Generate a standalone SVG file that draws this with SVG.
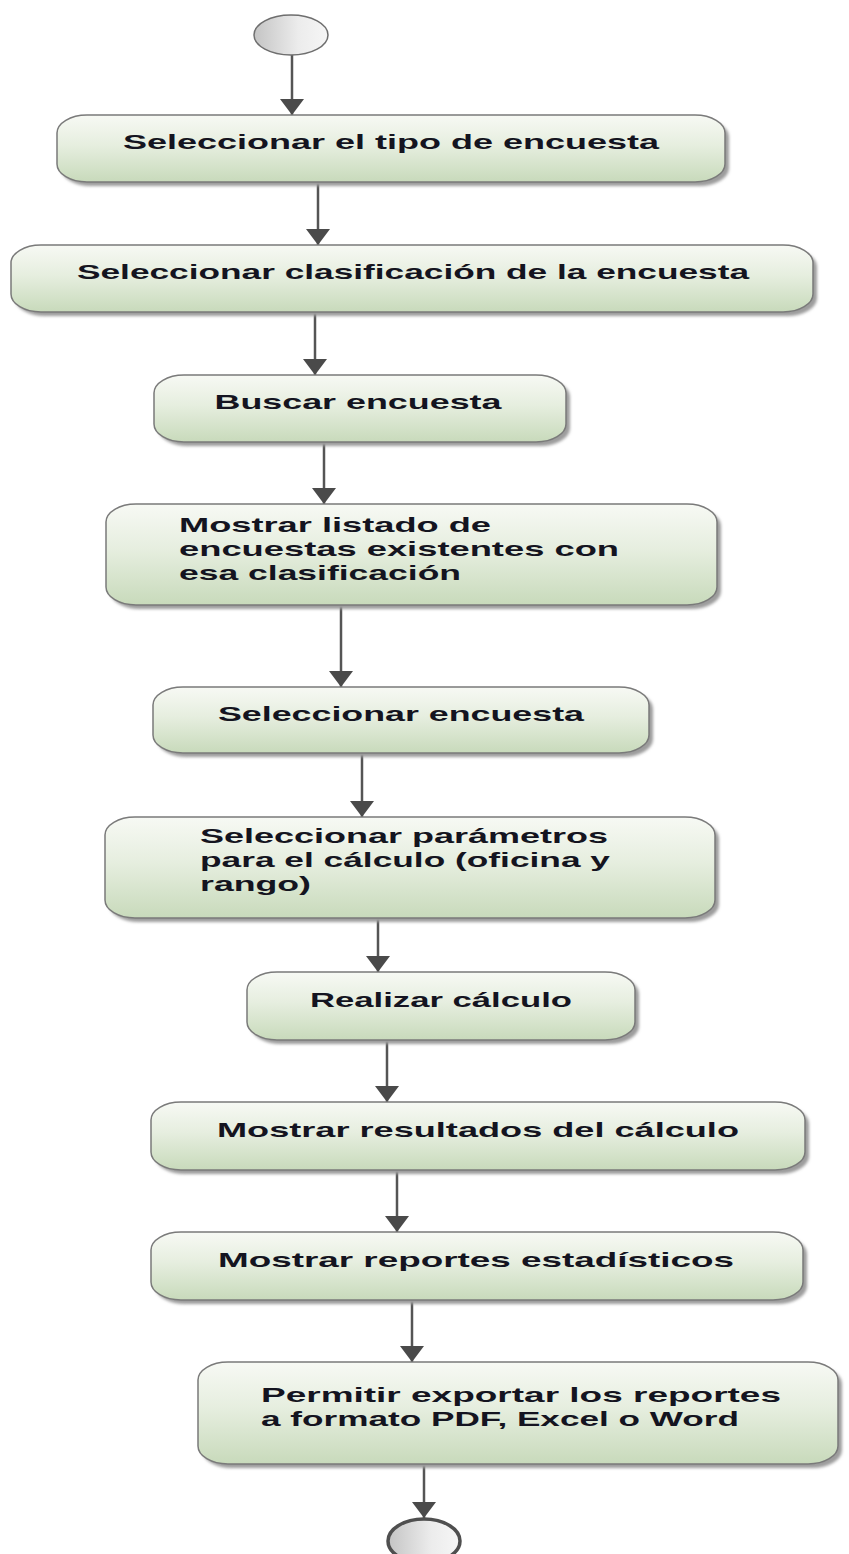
<svg xmlns="http://www.w3.org/2000/svg" width="849" height="1554" viewBox="0 0 849 1554">
  <defs>
    <linearGradient id="actFill" x1="0" y1="0" x2="0" y2="1">
      <stop offset="0" stop-color="#f7f9f4"/>
      <stop offset="0.45" stop-color="#e6eedf"/>
      <stop offset="1" stop-color="#c8dabb"/>
    </linearGradient>
    <linearGradient id="termFill" x1="0" y1="0" x2="1" y2="0">
      <stop offset="0" stop-color="#c4c4c4"/>
      <stop offset="0.6" stop-color="#ececec"/>
      <stop offset="1" stop-color="#f6f6f6"/>
    </linearGradient>
    <filter id="soft" x="-5%" y="-20%" width="110%" height="140%">
      <feGaussianBlur stdDeviation="1.5"/>
    </filter>
    <marker id="arrow" viewBox="0 -12 16 24" refX="16" refY="0" markerWidth="16" markerHeight="24" markerUnits="userSpaceOnUse" orient="auto">
      <path d="M0,-12 L16,0 L0,12 z" fill="#4a4a4a"/>
    </marker>
  </defs>
  <style>
    .shadow { fill: #9c9c9c; filter: url(#soft); }
    .act { fill: url(#actFill); stroke: #7a7a7a; stroke-width: 1.5; }
    .lbl { font-family: "Liberation Sans", Arial, sans-serif; font-weight: bold; font-size: 21px; fill: #141420; }
    .mid { text-anchor: middle; }
    .flow { stroke: #555555; stroke-width: 2.5; fill: none; marker-end: url(#arrow); }
    .term { fill: url(#termFill); stroke: #6e6e6e; stroke-width: 1.5; }
    .termEnd { fill: url(#termFill); stroke: #4f4f4f; stroke-width: 3.5; }
  </style>

  <!-- connectors -->
  <g id="connectors">
    <path class="flow" d="M292,55 V115"/>
    <path class="flow" d="M318,182 V245"/>
    <path class="flow" d="M315,312 V375"/>
    <path class="flow" d="M324,442 V504"/>
    <path class="flow" d="M341,605 V687"/>
    <path class="flow" d="M362,753 V817"/>
    <path class="flow" d="M378,918 V972"/>
    <path class="flow" d="M387,1040 V1102"/>
    <path class="flow" d="M397,1170 V1232"/>
    <path class="flow" d="M412,1300 V1362"/>
    <path class="flow" d="M424,1464 V1518"/>
  </g>

  <!-- start -->
  <g id="start">
    <ellipse class="term" cx="291" cy="35" rx="37" ry="20"/>
  </g>

  <g id="n1">
    <rect class="shadow" x="61" y="119" width="668" height="67" rx="30" ry="18"/>
    <rect class="act" x="57" y="115" width="668" height="67" rx="30" ry="18"/>
    <text class="lbl mid" x="391" y="149" textLength="536" lengthAdjust="spacingAndGlyphs">Seleccionar el tipo de encuesta</text>
  </g>

  <g id="n2">
    <rect class="shadow" x="15" y="249" width="802" height="67" rx="30" ry="18"/>
    <rect class="act" x="11" y="245" width="802" height="67" rx="30" ry="18"/>
    <text class="lbl mid" x="413" y="279" textLength="672" lengthAdjust="spacingAndGlyphs">Seleccionar clasificación de la encuesta</text>
  </g>

  <g id="n3">
    <rect class="shadow" x="158" y="379" width="412" height="67" rx="30" ry="18"/>
    <rect class="act" x="154" y="375" width="412" height="67" rx="30" ry="18"/>
    <text class="lbl mid" x="358" y="409" textLength="287" lengthAdjust="spacingAndGlyphs">Buscar encuesta</text>
  </g>

  <g id="n4">
    <rect class="shadow" x="110" y="508" width="611" height="101" rx="30" ry="18"/>
    <rect class="act" x="106" y="504" width="611" height="101" rx="30" ry="18"/>
    <text class="lbl" x="179" y="532" textLength="312" lengthAdjust="spacingAndGlyphs">Mostrar listado de</text>
    <text class="lbl" x="179" y="556" textLength="440" lengthAdjust="spacingAndGlyphs">encuestas existentes con</text>
    <text class="lbl" x="179" y="580" textLength="282" lengthAdjust="spacingAndGlyphs">esa clasificación</text>
  </g>

  <g id="n5">
    <rect class="shadow" x="157" y="691" width="496" height="66" rx="30" ry="18"/>
    <rect class="act" x="153" y="687" width="496" height="66" rx="30" ry="18"/>
    <text class="lbl mid" x="401" y="721" textLength="366" lengthAdjust="spacingAndGlyphs">Seleccionar encuesta</text>
  </g>

  <g id="n6">
    <rect class="shadow" x="109" y="821" width="610" height="101" rx="30" ry="18"/>
    <rect class="act" x="105" y="817" width="610" height="101" rx="30" ry="18"/>
    <text class="lbl" x="200" y="843" textLength="408" lengthAdjust="spacingAndGlyphs">Seleccionar parámetros</text>
    <text class="lbl" x="200" y="867" textLength="410" lengthAdjust="spacingAndGlyphs">para el cálculo (oficina y</text>
    <text class="lbl" x="200" y="891" textLength="111" lengthAdjust="spacingAndGlyphs">rango)</text>
  </g>

  <g id="n7">
    <rect class="shadow" x="251" y="976" width="388" height="68" rx="30" ry="18"/>
    <rect class="act" x="247" y="972" width="388" height="68" rx="30" ry="18"/>
    <text class="lbl mid" x="441" y="1007" textLength="262" lengthAdjust="spacingAndGlyphs">Realizar cálculo</text>
  </g>

  <g id="n8">
    <rect class="shadow" x="155" y="1106" width="654" height="68" rx="30" ry="18"/>
    <rect class="act" x="151" y="1102" width="654" height="68" rx="30" ry="18"/>
    <text class="lbl mid" x="478" y="1137" textLength="522" lengthAdjust="spacingAndGlyphs">Mostrar resultados del cálculo</text>
  </g>

  <g id="n9">
    <rect class="shadow" x="155" y="1236" width="652" height="68" rx="30" ry="18"/>
    <rect class="act" x="151" y="1232" width="652" height="68" rx="30" ry="18"/>
    <text class="lbl mid" x="476" y="1267" textLength="516" lengthAdjust="spacingAndGlyphs">Mostrar reportes estadísticos</text>
  </g>

  <g id="n10">
    <rect class="shadow" x="202" y="1366" width="640" height="102" rx="30" ry="18"/>
    <rect class="act" x="198" y="1362" width="640" height="102" rx="30" ry="18"/>
    <text class="lbl" x="261" y="1402" textLength="520" lengthAdjust="spacingAndGlyphs">Permitir exportar los reportes</text>
    <text class="lbl" x="261" y="1426" textLength="478" lengthAdjust="spacingAndGlyphs">a formato PDF, Excel o Word</text>
  </g>

  <!-- end -->
  <g id="end">
    <ellipse class="termEnd" cx="424" cy="1541" rx="36" ry="22"/>
  </g>
</svg>
